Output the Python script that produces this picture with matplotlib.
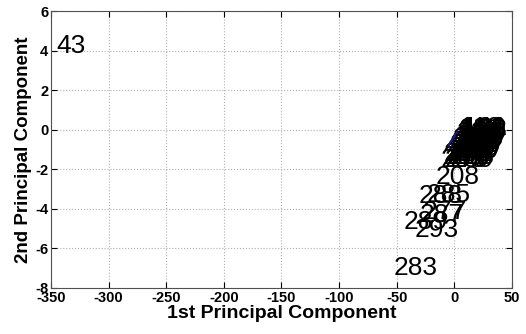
import numpy as np
import matplotlib.pyplot as plt

plt.rcParams['font.family'] = ['Liberation Sans', 'DejaVu Sans']
plt.rcParams['axes.unicode_minus'] = False

# labelled outliers (score 1, score 2, observation number)
out_x = [-345, -53, -34, -44, -30, -27, -31, -24, -16]
out_y = [4.37, -6.86, -4.97, -4.55, -4.2, -4.05, -3.25, -3.2, -2.25]
out_lab = ['43', '283', '293', '289', '287', '277', '288', '285', '208']

# dense cluster near the origin
cl_x = [5, 7, 8,
        4, 6, 8,
        2, 4, 7,
        1, 3, 6,
        -1, 2, 5,
        -2, 0, 3,
        -4, -1, 2,
        -5, -2, 1,
        -7, -4, 0,
        -9, -5, -2,
        -10, -7, -3,
        -12, -8, -4]
cl_y = [0.23, 0.23, 0.23,
        0.1, 0.1, 0.1,
        -0.05, -0.05, -0.05,
        -0.2, -0.2, -0.2,
        -0.35, -0.35, -0.35,
        -0.5, -0.5, -0.5,
        -0.65, -0.65, -0.65,
        -0.8, -0.8, -0.8,
        -0.95, -0.95, -0.95,
        -1.1, -1.1, -1.1,
        -1.25, -1.25, -1.25,
        -1.4, -1.4, -1.4]
cl_lab = ['118', '140', '121', '203', '186', '103', '230', '198', '180',
          '166', '239', '206', '256', '250', '226', '268', '238', '218',
          '260', '248', '228', '269', '246', '236', '276', '258', '240',
          '280', '262', '244', '281', '266', '253', '286', '270', '259']

# blue vector inside the cluster
vec_x = [-5, 2.5]
vec_y = [-0.8, -0.1]

fig = plt.figure(figsize=(5.26, 3.34), dpi=100)
ax = fig.add_axes([0.097, 0.138, 0.876, 0.829])

ax.plot(vec_x, vec_y, color='#1a1a8c', lw=1.5, zorder=1)
for x, y, s in zip(out_x + cl_x, out_y + cl_y, out_lab + cl_lab):
    ax.text(x, y, s, fontsize=19, ha='left', va='center_baseline', color='black', zorder=2)
# blue vector drawn again on top so it shows through the labels
ax.plot(vec_x, vec_y, color='#1a1a8c', lw=1.2, zorder=3)

ax.set_xlim(-350, 50)
ax.set_ylim(-8, 6)
ax.set_xticks(np.arange(-350, 51, 50))
ax.set_yticks(np.arange(-8, 7, 2))
ax.grid(True, linestyle=':', color='#b0b0b0', lw=0.8)
ax.tick_params(direction='in', top=True, right=True, length=4, width=0.8,
               labelsize=10.5, pad=2)
for t in ax.get_xticklabels() + ax.get_yticklabels():
    t.set_fontweight('bold')
for sp in ax.spines.values():
    sp.set_color('#505050')
ax.set_xlabel('1st Principal Component', fontsize=14, fontweight='bold', labelpad=0)
ax.set_ylabel('2nd Principal Component', fontsize=13.5, fontweight='bold', labelpad=2)

fig.savefig('out.png', dpi=100)
